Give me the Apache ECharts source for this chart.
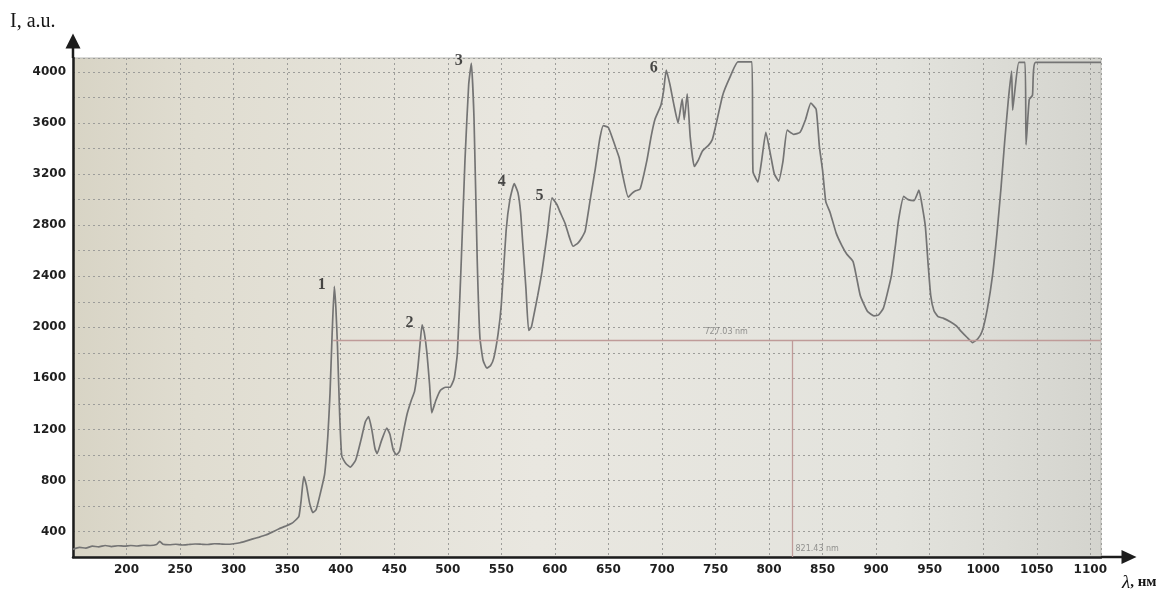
<!DOCTYPE html>
<html>
<head>
<meta charset="utf-8">
<title>Emission spectrum</title>
<script src="https://cdn.jsdelivr.net/npm/echarts@6/dist/echarts.min.js"></script>
<style>
  html, body { margin: 0; padding: 0; background: #ffffff; }
  #chart { width: 1176px; height: 592px; }
</style>
</head>
<body>
<div id="chart"></div>
<script>
// Spectrum trace: wavelength (nm) and intensity (a.u.)
const wavelength = [
  150, 156, 162, 168, 174, 180, 186, 192, 198, 204, 210, 216, 222, 228, 231, 234, 240, 246, 252, 258,
  264, 270, 276, 282, 288, 294, 300, 306, 312, 318, 324, 330, 336, 342, 348, 354, 358, 361, 363, 365.5,
  368, 371, 374, 377, 381, 385, 388, 390, 392, 394, 395.5, 397, 399, 401, 405, 409, 414, 419, 423, 426,
  429, 432, 434, 438, 443, 446, 449, 452, 455, 459, 462, 466, 469, 472, 474, 476, 478, 480.5, 483, 485,
  489, 493, 498, 502, 506, 509, 512.5, 516, 519.5, 522, 524.5, 527.5, 530, 533, 536.5, 540, 543, 547, 550, 554.5,
  558, 562, 565.5, 568, 570, 573, 575.5, 578, 580, 584, 588, 593, 597.3, 602, 605, 609.5, 613, 617, 621.5, 625,
  628.3, 633, 637.7, 642, 645.3, 650, 656.5, 660, 663, 668.5, 672, 675, 679.6, 686, 690, 693.5, 699, 701.5, 704, 707.5,
  711, 715, 718.9, 720.8, 723.6, 726.4, 730.2, 734, 737.7, 743.4, 747, 750, 756.6, 763, 771, 784, 785, 789.6, 793, 797,
  802, 805, 809, 813, 817, 823, 829, 834, 839, 844, 847, 850, 853, 857, 862.7, 868, 872.5, 878.4, 882, 885.3,
  892, 898, 902, 906.7, 910, 914.4, 918, 921, 925.8, 930, 935.4, 940, 943, 946, 948.5, 951, 954, 957.8, 963, 969.6,
  975, 979.4, 985, 990.2, 995, 999, 1004, 1008.8, 1013, 1016.7, 1020, 1023.5, 1026.5, 1027.5, 1029.4, 1033.3, 1039, 1040, 1043, 1046,
  1049, 1110
];
const intensity = [
  260, 275, 270, 285, 280, 290, 282, 288, 285, 290, 286, 292, 290, 298, 322, 300, 296, 300, 294, 298,
  302, 300, 298, 304, 302, 300, 304, 312, 326, 342, 356, 372, 395, 420, 440, 462, 490, 520, 640, 830,
  760, 620, 548, 570, 700, 850, 1150, 1480, 1950, 2320, 2150, 1850, 1320, 990, 930, 905, 960, 1120, 1260, 1300,
  1200, 1050, 1010, 1110, 1210, 1160, 1040, 1000, 1030, 1200, 1320, 1430, 1500, 1680, 1860, 2020, 1960, 1800, 1550, 1330,
  1430, 1505, 1530, 1530, 1600, 1800, 2500, 3300, 3900, 4070, 3630, 2520, 1920, 1740, 1680, 1700, 1760, 1950, 2180, 2760,
  3000, 3125, 3055, 2900, 2660, 2300, 1975, 2000, 2080, 2250, 2440, 2740, 3015, 2960, 2900, 2815, 2720, 2635, 2660, 2700,
  2755, 3000, 3240, 3480, 3580, 3565, 3415, 3330, 3205, 3020, 3050, 3068, 3084, 3310, 3500, 3630, 3740, 3850, 4016, 3900,
  3750, 3602, 3790, 3626, 3830, 3490, 3260, 3310, 3380, 3425, 3470, 3570, 3815, 3950, 4080, 4080, 3220, 3138, 3300, 3528,
  3325, 3200, 3146, 3300, 3545, 3512, 3528, 3626, 3756, 3707, 3418, 3230, 2984, 2900, 2738, 2640, 2574, 2516, 2380, 2246,
  2123, 2090, 2095, 2148, 2250, 2410, 2640, 2844, 3025, 3000, 2992, 3074, 2951, 2787, 2500, 2248, 2130, 2083, 2070, 2041,
  2010, 1968, 1920, 1880, 1910, 1968, 2150, 2413, 2750, 3099, 3450, 3785, 4008, 3702, 3843, 4075, 4075, 3430, 3785, 3818,
  4075, 4075
];

// Numbered emission peaks
const peakNames = ['1', '2', '3', '4', '5', '6'];
const peakWavelength = [394, 476, 522, 562, 597.3, 704];
const peakIntensity = [2320, 2020, 4070, 3125, 3015, 4016];

// Axis ranges and tick labels
const xMin = 150, xMax = 1110, xStep = 50;
const yMin = 200, yMax = 4110, yStep = 200;
const xTickLabels = [200, 250, 300, 350, 400, 450, 500, 550, 600, 650, 700, 750, 800, 850, 900, 950, 1000, 1050, 1100];
const yTickLabels = [400, 800, 1200, 1600, 2000, 2400, 2800, 3200, 3600, 4000];

// Measurement cursors
const cursorLevel = 1900;
const cursorStart = 393;
const cursorWavelength = 821.43;
const cursorTextAt = 760;
const cursorTexts = ['727.03 nm', '821.43 nm'];

const W = 1176, H = 592;
const G = { left: 73, right: 75, top: 58, bottom: 35 };
const gx1 = W - G.right, gy1 = H - G.bottom;

const chart = echarts.init(document.getElementById('chart'), null, { renderer: 'canvas', width: W, height: H });

const tickFont = { color: '#1f1f1f', fontFamily: 'DejaVu Sans', fontWeight: 'bold', fontSize: 12 };
const gridDots = { show: true, lineStyle: { color: '#9d9d9a', width: 1, type: [2, 3] } };
const axisInk = '#1c1c1c';

const option = {
  animation: false,
  backgroundColor: '#ffffff',
  grid: {
    left: G.left, right: G.right, top: G.top, bottom: G.bottom,
    show: true,
    borderColor: '#b7b7b2',
    borderWidth: 1,
    backgroundColor: {
      type: 'linear', x: 0, y: 0, x2: 1, y2: 0,
      colorStops: [
        { offset: 0, color: '#d8d4c5' },
        { offset: 0.12, color: '#e0ddd1' },
        { offset: 0.45, color: '#e9e7e0' },
        { offset: 0.8, color: '#e3e3dd' },
        { offset: 1, color: '#d4d4ce' }
      ]
    }
  },
  xAxis: {
    type: 'value', min: xMin, max: xMax, interval: xStep,
    axisLine: {
      show: true, onZero: false,
      lineStyle: { color: axisInk, width: 2.5 },
      symbol: ['none', 'triangle'], symbolSize: [14, 15], symbolOffset: [0, 28]
    },
    axisTick: { show: false },
    axisLabel: Object.assign({ margin: 7, formatter: v => xTickLabels.includes(v) ? String(v) : '' }, tickFont),
    splitLine: gridDots
  },
  yAxis: {
    type: 'value', min: yMin, max: yMax, interval: yStep,
    axisLine: {
      show: true, onZero: false,
      lineStyle: { color: axisInk, width: 2.5 },
      symbol: ['none', 'triangle'], symbolSize: [15, 15], symbolOffset: [0, 17]
    },
    axisTick: { show: false },
    axisLabel: Object.assign({ margin: 7, formatter: v => yTickLabels.includes(v) ? String(v) : '' }, tickFont),
    splitLine: gridDots
  },
  series: [
    {
      name: 'spectrum',
      type: 'line',
      data: wavelength.map((w, i) => [w, intensity[i]]),
      showSymbol: false,
      smooth: 0.15,
      lineStyle: { color: '#747474', width: 1.7 },
      z: 3,
      silent: true,
      markLine: {
        silent: true,
        symbol: ['none', 'none'],
        label: { show: false },
        lineStyle: { color: '#bf9b99', width: 1.3, type: 'solid' },
        data: [
          [{ coord: [cursorStart, cursorLevel] }, { coord: [xMax, cursorLevel] }],
          [{ coord: [cursorWavelength, cursorLevel] }, { coord: [cursorWavelength, yMin] }]
        ]
      }
    },
    {
      name: 'peaks',
      type: 'scatter',
      data: peakWavelength.map((w, i) => [w, peakIntensity[i]]),
      symbolSize: 1,
      itemStyle: { color: 'rgba(0,0,0,0)' },
      silent: true,
      z: 4,
      label: {
        show: true, position: 'left', distance: 8, offset: [0, -2],
        formatter: p => peakNames[p.dataIndex],
        color: '#1e1e1e', fontFamily: 'Liberation Serif', fontWeight: 'bold', fontSize: 16
      }
    },
    {
      name: 'cursor readouts',
      type: 'scatter',
      data: [
        { value: [cursorTextAt, cursorLevel], label: { position: 'top', distance: 4 } },
        { value: [cursorWavelength, yMin], label: { position: 'right', distance: 3, offset: [0, -8] } }
      ],
      symbolSize: 1,
      itemStyle: { color: 'rgba(0,0,0,0)' },
      silent: true,
      z: 4,
      label: {
        show: true,
        formatter: p => cursorTexts[p.dataIndex],
        color: '#7c7c7a', fontFamily: 'DejaVu Sans', fontSize: 8
      }
    }
  ],
  graphic: [
    // axis shafts continuing past the plotting area up to the arrow heads
    { type: 'line', z: 100, shape: { x1: G.left, y1: G.top, x2: G.left, y2: G.top - 12 }, style: { stroke: axisInk, lineWidth: 2.5 } },
    { type: 'line', z: 100, shape: { x1: gx1, y1: gy1, x2: gx1 + 24, y2: gy1 }, style: { stroke: axisInk, lineWidth: 2.5 } },
    { type: 'text', z: 100, left: 10, top: 12, style: { text: 'I, a.u.', font: '20px "Liberation Serif"', fill: '#151515' } },
    {
      type: 'text', z: 100, left: 1122, top: 573,
      style: {
        text: '{l|λ}{u|, нм}',
        rich: {
          l: { font: 'italic 19px "Liberation Serif"', fill: '#151515' },
          u: { font: 'bold 15px "Liberation Serif"', fill: '#151515' }
        }
      }
    }
  ]
};

chart.setOption(option);
</script>
</body>
</html>
